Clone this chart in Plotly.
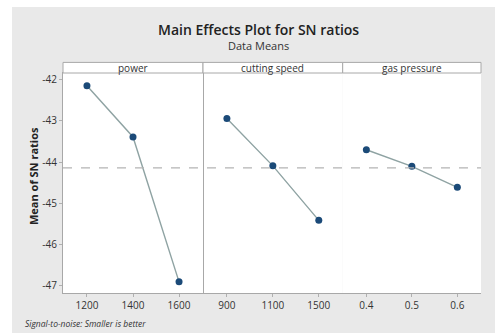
import plotly.graph_objects as go

factors = ["power", "cutting speed", "gas pressure"]
levels = [["1200", "1400", "1600"], ["900", "1100", "1500"], ["0.4", "0.5", "0.6"]]
sn_means = [[-42.15, -43.39, -46.90], [-42.94, -44.09, -45.41], [-43.70, -44.10, -44.61]]
overall_mean = -44.14
y_ticks = [-42, -43, -44, -45, -46, -47]
y_tick_labels = ["-42", "-43", "-44", "-45", "-46", "-47"]

W, H = 495, 333
ml, mr, mt, mb = 63, 14, 73, 40
pw = W - ml - mr
ph = H - mt - mb

fig = go.Figure()
bounds = [0, 140 / pw, 279.7 / pw, 1]
for i in range(3):
    xa = "x" if i == 0 else f"x{i+1}"
    fig.add_trace(go.Scatter(
        x=levels[i], y=sn_means[i], xaxis=xa, yaxis="y", mode="lines+markers",
        line=dict(color="#8fa3a3", width=1.4),
        marker=dict(color="#1b4a78", size=7),
        showlegend=False, hoverinfo="x+y"))

axis_common = dict(showline=True, mirror=True, linecolor="#a8a8a8", linewidth=1,
                   showgrid=False, zeroline=False, ticks="outside", ticklen=3,
                   tickcolor="#b0b0b0", tickfont=dict(family="Open Sans", size=10, color="#333333"),
                   type="category", range=[-0.52, 2.52], fixedrange=True)
layout = {}
for i in range(3):
    key = "xaxis" if i == 0 else f"xaxis{i+1}"
    layout[key] = dict(axis_common, domain=[bounds[i], bounds[i + 1]], anchor="y")

fig.update_layout(**layout)
fig.update_layout(
    width=W, height=H,
    margin=dict(l=ml, r=mr, t=mt, b=mb),
    paper_bgcolor="#e9e9e9", plot_bgcolor="white",
    yaxis=dict(range=[-47.17, -41.84], tickvals=y_ticks, ticktext=y_tick_labels, showline=True, mirror=True,
               linecolor="#a8a8a8", showgrid=False, zeroline=False, ticks="outside",
               ticklen=3, tickcolor="#b0b0b0",
               tickfont=dict(family="Open Sans", size=10, color="#333333"), fixedrange=True),
)

shapes = []
# white outer border (left and top)
shapes.append(dict(type="rect", xref="paper", yref="paper", x0=-ml / pw - 0.01, x1=(12 - ml) / pw,
                   y0=-mb / ph - 0.01, y1=(H + 5 - mb) / ph, fillcolor="white", line_width=0, layer="below"))
shapes.append(dict(type="rect", xref="paper", yref="paper", x0=-ml / pw - 0.01, x1=1 + mr / pw + 0.01,
                   y0=(H - 7 - mb) / ph, y1=(H + 5 - mb) / ph, fillcolor="white", line_width=0, layer="below"))
# strips
strip_h = 10.6 / ph
for i in range(3):
    shapes.append(dict(type="rect", xref="paper", yref="paper", x0=bounds[i], x1=bounds[i + 1],
                       y0=1, y1=1 + strip_h, fillcolor="white", line=dict(color="#a8a8a8", width=1)))
# mean line
shapes.append(dict(type="line", xref="paper", yref="y", x0=0, x1=1, y0=overall_mean, y1=overall_mean,
                   line=dict(color="#b4b4b4", width=1.2, dash="dash")))
fig.update_layout(shapes=shapes)

ann = []
for i in range(3):
    ann.append(dict(text=factors[i], xref="paper", yref="paper", x=(bounds[i] + bounds[i + 1]) / 2,
                    y=1 + strip_h / 2, showarrow=False, xanchor="center", yanchor="middle",
                    font=dict(family="Open Sans", size=10, color="#333333")))
ann.append(dict(text="Main Effects Plot for SN ratios", xref="paper", yref="paper",
                x=(258 - ml) / pw, y=(H - 29 - mb) / ph, showarrow=False, xanchor="center", yanchor="middle",
                font=dict(family="Open Sans", size=14, color="#222222", weight=600)))
ann.append(dict(text="Data Means", xref="paper", yref="paper",
                x=(258 - ml) / pw, y=(H - 46 - mb) / ph, showarrow=False, xanchor="center", yanchor="middle",
                font=dict(family="Open Sans", size=11, color="#333333")))
ann.append(dict(text="<b>Mean of SN ratios</b>", xref="paper", yref="paper", textangle=-90,
                x=(33 - ml) / pw, y=(H - 176 - mb) / ph, showarrow=False, xanchor="center", yanchor="middle",
                font=dict(family="Open Sans", size=11, color="#222222")))
ann.append(dict(text="<i>Signal-to-noise: Smaller is better</i>", xref="paper", yref="paper",
                x=(23 - ml) / pw, y=(H - 323 - mb) / ph, showarrow=False, xanchor="left", yanchor="middle",
                font=dict(family="Open Sans", size=8.5, color="#333333")))
fig.update_layout(annotations=ann)

fig.write_html("out.html", config={"displayModeBar": False})

# remove default page margin so the figure sits at the window's top-left corner
with open("out.html", "r", encoding="utf-8") as f:
    html = f.read()
html = html.replace("<head>", "<head><style>html,body{margin:0;padding:0;overflow:hidden;}</style>", 1)
with open("out.html", "w", encoding="utf-8") as f:
    f.write(html)
